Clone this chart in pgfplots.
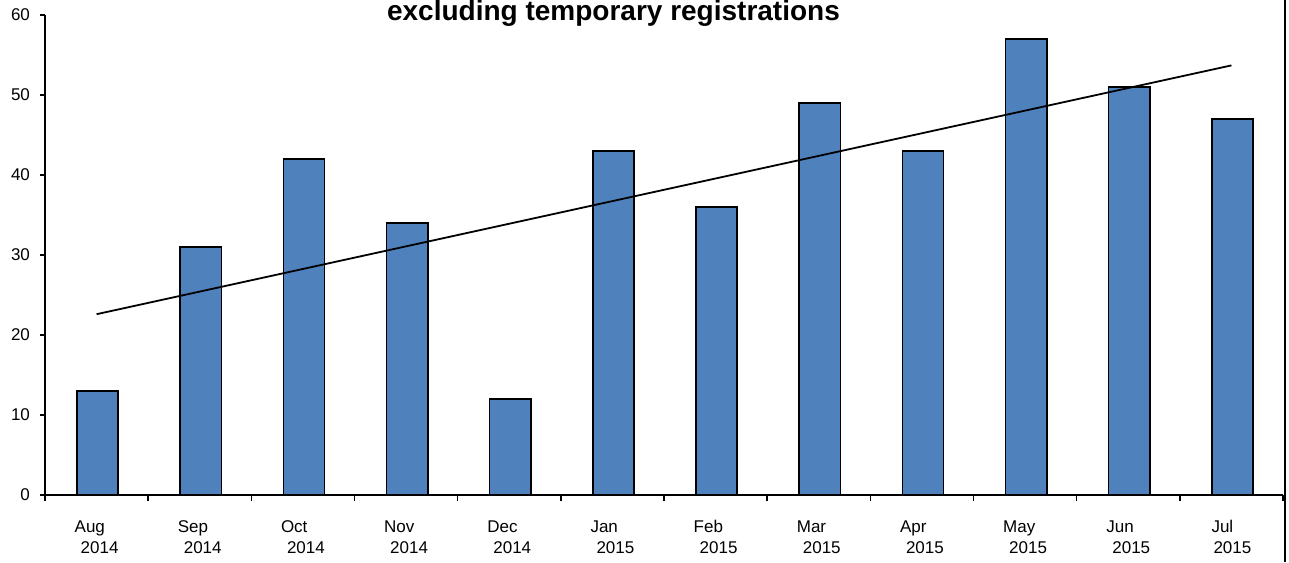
\documentclass[border=0pt]{standalone}
\usepackage{fontspec}
\setmainfont{Liberation Sans}
\usepackage{pgfplots}
\pgfplotsset{compat=1.18}
\definecolor{barblue}{RGB}{79,129,189}
\begin{document}
\begin{tikzpicture}
\useasboundingbox (0,0) rectangle (644.5pt,281pt);
\begin{axis}[
  at={(22.5pt,33.5pt)}, anchor=south west,
  scale only axis, width=619pt, height=240pt,
  xmin=-0.5, xmax=11.5, ymin=0, ymax=60,
  axis x line*=bottom, axis y line*=left,
  axis line style={-, line width=0.9pt},
  tick align=outside,
  xtick={0,...,11},
  xticklabels={{\strut Aug\\\hspace*{3pt}2014},{\strut Sep\\\hspace*{3pt}2014},{\strut Oct\\\hspace*{3pt}2014},{\strut Nov\\\hspace*{3pt}2014},{\strut Dec\\\hspace*{3pt}2014},{\strut Jan\\\hspace*{3pt}2015},{\strut Feb\\\hspace*{3pt}2015},{\strut Mar\\\hspace*{3pt}2015},{\strut Apr\\\hspace*{3pt}2015},{\strut May\\\hspace*{3pt}2015},{\strut Jun\\\hspace*{3pt}2015},{\strut Jul\\\hspace*{1pt}2015}},
  xticklabel style={align=left, font=\fontsize{8.5}{10.85}\selectfont, yshift=-5pt},
  major x tick style={draw=none},
  minor xtick={-0.5,0.5,...,11.5},
  minor tick length=3pt,
  minor x tick style={line width=0.8pt, black},
  ytick={0,10,...,60},
  major tick length=2.5pt,
  y tick style={line width=0.8pt, black},
  yticklabel style={font=\fontsize{8.5}{10}\selectfont, xshift=-1.5pt},
  /pgf/number format/assume math mode=true,
  clip=false,
]
\addplot[ybar, bar width=0.4, bar shift=0.01, fill=barblue, draw=black, line width=0.8pt]
  coordinates {(0,13) (1,31) (2,42) (3,34) (4,12) (5,43) (6,36) (7,49) (8,43) (9,57) (10,51) (11,47)};
\addplot[black, line width=0.9pt, mark=none] coordinates {(0,22.6) (11,53.7)};
\end{axis}
\node[font=\bfseries\fontsize{14}{16}\selectfont, anchor=base, inner sep=0pt] at (306.75pt,270.5pt) {excluding temporary registrations};
\draw[line width=0.9pt] (642.3pt,0) -- (642.3pt,281pt);
\end{tikzpicture}
\end{document}
